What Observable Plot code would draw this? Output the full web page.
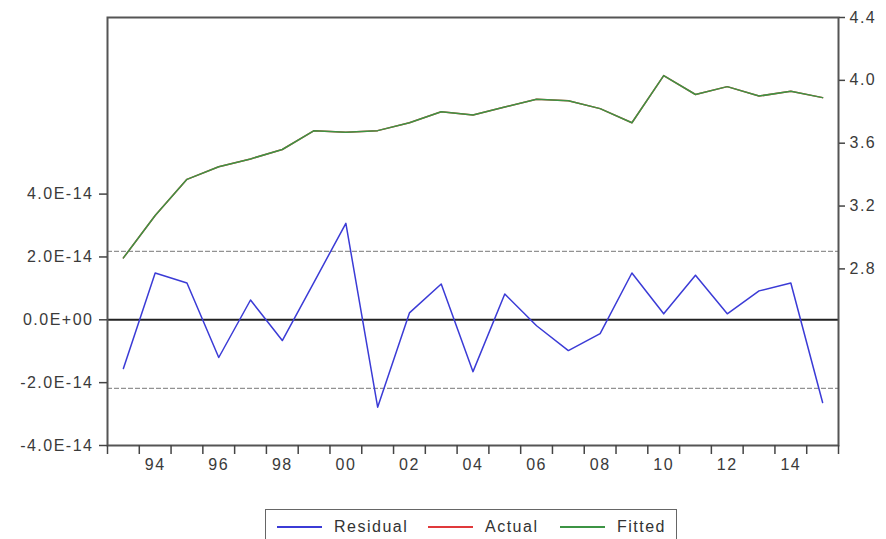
<!DOCTYPE html>
<html>
<head>
<meta charset="utf-8">
<script src="https://cdn.jsdelivr.net/npm/d3@7"></script>
<script src="https://cdn.jsdelivr.net/npm/@observablehq/plot@0.6"></script>
<style>
  body { margin: 0; background: #fff; font-family: "Liberation Sans", Arial, sans-serif; }
  #chart { position: absolute; left: 0; top: 0; }
  #legend {
    position: absolute; left: 265px; top: 509px; width: 412px; height: 40px;
    border: 1.5px solid #666; box-sizing: border-box; background: #fff;
    font-size: 16px; letter-spacing: 1.5px; color: #333;
  }
  .item { position: absolute; top: 8px; display: flex; align-items: center; }
  .swatch { display: inline-block; width: 45px; height: 2px; margin-right: 12px; }
</style>
</head>
<body>
<div id="chart"></div>
<div id="legend"></div>
<script>
// ---- data ----
const years = [1993,1994,1995,1996,1997,1998,1999,2000,2001,2002,2003,2004,2005,2006,2007,2008,2009,2010,2011,2012,2013,2014,2015];
const residual = [-1.55e-14,1.49e-14,1.17e-14,-1.20e-14,0.63e-14,-0.66e-14,1.20e-14,3.07e-14,-2.78e-14,0.22e-14,1.14e-14,-1.65e-14,0.82e-14,-0.19e-14,-0.98e-14,-0.44e-14,1.49e-14,0.19e-14,1.42e-14,0.19e-14,0.92e-14,1.17e-14,-2.63e-14];
const fitted = [2.87,3.14,3.37,3.45,3.50,3.56,3.68,3.67,3.68,3.73,3.80,3.78,3.83,3.88,3.87,3.82,3.73,4.03,3.91,3.96,3.90,3.93,3.89];
const actual = [2.87,3.14,3.37,3.45,3.50,3.56,3.68,3.67,3.68,3.73,3.80,3.78,3.83,3.88,3.87,3.82,3.73,4.03,3.91,3.96,3.90,3.93,3.89];
const seBand = 2.18e-14;
const leftTickValues = [-4e-14,-2e-14,0,2e-14,4e-14];
const leftTickLabels = ["-4.0E-14","-2.0E-14","0.0E+00","2.0E-14","4.0E-14"];
const rightTickValues = [2.8,3.2,3.6,4.0,4.4];
const rightTickLabels = ["2.8","3.2","3.6","4.0","4.4"];
const xLabelYears = [1994,1996,1998,2000,2002,2004,2006,2008,2010,2012,2014];
const xLabels = ["94","96","98","00","02","04","06","08","10","12","14"];
const seriesNames = ["Residual","Actual","Fitted"];
const seriesColors = ["#3b3bd6","#e0393b","#3c9444"];

// residual (left axis) mapped onto the right-axis scale
const toRight = v => 2.476 + v * 2e13;

const rows = years.map((y, i) => ({year: y, residual: residual[i], fitted: fitted[i], actual: actual[i]}));
const boundaries = [...years.map(y => y - 0.5), years[years.length - 1] + 0.5];

const axisStyle = {stroke: "#444", strokeWidth: 1.5};

const chart = Plot.plot({
  width: 886,
  height: 500,
  marginTop: 17,
  marginRight: 48,
  marginBottom: 55,
  marginLeft: 107,
  style: {fontFamily: '"Liberation Sans", Arial, sans-serif', fontSize: "16px", letterSpacing: "1.5px", color: "#3a3a3a", background: "#fff", overflow: "visible"},
  x: {domain: [1992.5, 2015.5], axis: null},
  y: {domain: [1.676, 4.4], axis: null},
  marks: [
    Plot.ruleY([-seBand, seBand].map(toRight), {stroke: "#777", strokeWidth: 1, strokeDasharray: "5,2"}),
    Plot.ruleY([toRight(0)], {stroke: "#222", strokeWidth: 2}),
    Plot.line(rows, {x: "year", y: d => toRight(d.residual), stroke: seriesColors[0], strokeWidth: 1.5}),
    Plot.line(rows, {x: "year", y: "actual", stroke: seriesColors[1], strokeWidth: 1.5}),
    Plot.line(rows, {x: "year", y: "fitted", stroke: seriesColors[2], strokeWidth: 1.5}),
    Plot.frame({stroke: "#555", strokeWidth: 2}),
    Plot.axisY(leftTickValues.map(toRight), {
      anchor: "left", tickSize: 8, tickPadding: 6, label: null, ...axisStyle,
      tickFormat: d => leftTickLabels[leftTickValues.findIndex(v => Math.abs(toRight(v) - d) < 1e-9)]
    }),
    Plot.axisY(rightTickValues, {
      anchor: "right", tickSize: 6, tickPadding: 5, label: null, ...axisStyle,
      tickFormat: d => rightTickLabels[rightTickValues.findIndex(v => Math.abs(v - d) < 1e-9)]
    }),
    Plot.axisX(boundaries, {anchor: "bottom", tickSize: 9, label: null, tickFormat: () => "", ...axisStyle}),
    Plot.axisX(xLabelYears, {
      anchor: "bottom", tickSize: 0, tickPadding: 13, label: null,
      tickFormat: d => xLabels[xLabelYears.indexOf(d)]
    })
  ]
});
document.getElementById("chart").appendChild(chart);

// legend
const legend = document.getElementById("legend");
const itemLeft = [11, 162, 294];
seriesNames.forEach((name, i) => {
  const it = document.createElement("div");
  it.className = "item";
  it.style.left = itemLeft[i] + "px";
  const sw = document.createElement("span");
  sw.className = "swatch";
  sw.style.background = seriesColors[i];
  const tx = document.createElement("span");
  tx.textContent = name;
  it.appendChild(sw);
  it.appendChild(tx);
  legend.appendChild(it);
});
</script>
</body>
</html>
